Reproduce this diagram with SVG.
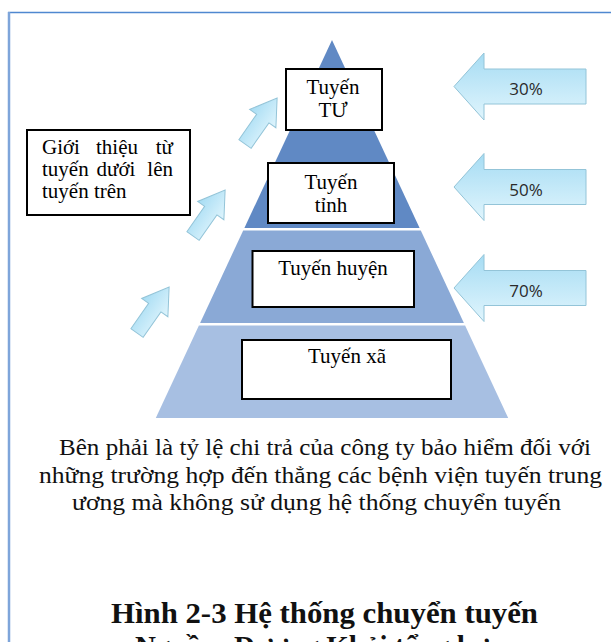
<svg xmlns="http://www.w3.org/2000/svg" width="611" height="642" viewBox="0 0 611 642">
  <style>
    .box { fill: #ffffff; stroke: #000000; stroke-width: 2; }
    .lbl { font-family: "Liberation Serif", "Times New Roman", serif; font-size: 21px; fill: #000000; }
    .mid { text-anchor: middle; }
    .end { text-anchor: end; }
    .pct { font-family: "Open Sans", "Liberation Sans", sans-serif; font-size: 17px; fill: #2a2a2a; text-anchor: middle; }
    .note { font-family: "Liberation Serif", "Times New Roman", serif; font-size: 23px; fill: #111111; text-anchor: middle; }
    .title { font-family: "Liberation Serif", "Times New Roman", serif; font-size: 29px; font-weight: bold; fill: #111111; text-anchor: middle; }
    .arrow { fill: url(#cyanGrad); stroke: #93c4d8; stroke-width: 1; }
  </style>
  <defs>
    <linearGradient id="cyanGrad" x1="0" y1="0" x2="0" y2="1">
      <stop offset="0" stop-color="#a6dcf3"/>
      <stop offset="1" stop-color="#e0f5fd"/>
    </linearGradient>
    <!-- block arrow pointing left, tip at origin -->
    <path id="leftArrow" d="M0,0 L30,-33.5 L30,-17.5 L132,-17.5 L132,17.5 L30,17.5 L30,33.5 Z"/>
    <!-- block arrow pointing along +x, tail at origin -->
    <path id="upArrow" d="M0,-7.5 L31,-7.5 L31,-16 L56,0 L31,16 L31,7.5 L0,7.5 Z"/>
  </defs>

  <!-- page frame -->
  <g id="frame">
    <line x1="8" y1="12.5" x2="611" y2="12.5" stroke="#4f88d0" stroke-width="1.5"/>
    <line x1="9" y1="12" x2="9" y2="642" stroke="#7ea5da" stroke-width="2.5"/>
  </g>

  <!-- pyramid tiers -->
  <g id="pyramid">
    <polygon points="332,40 419.6,228 244.4,228" fill="#6089c4"/>
    <polygon points="243.2,230.5 420.8,230.5 463.9,323 200.1,323" fill="#8aa9d6"/>
    <polygon points="198.9,325.5 465.1,325.5 508.2,418 155.8,418" fill="#a7bfe2"/>
  </g>

  <!-- connectors: referral arrows and payment-rate arrows -->
  <g id="connectors">
    <use href="#upArrow" class="arrow" transform="translate(245,144) rotate(-55)"/>
    <use href="#upArrow" class="arrow" transform="translate(193,236) rotate(-55)"/>
    <use href="#upArrow" class="arrow" transform="translate(137,333) rotate(-55)"/>

    <use href="#leftArrow" class="arrow" transform="translate(454,86.5)"/>
    <use href="#leftArrow" class="arrow" transform="translate(454,187)"/>
    <use href="#leftArrow" class="arrow" transform="translate(454,288)"/>
    <text class="pct" x="526" y="95">30%</text>
    <text class="pct" x="526" y="195.5">50%</text>
    <text class="pct" x="526" y="296.5">70%</text>
  </g>

  <g id="tuyen-tu">
    <rect class="box" x="286" y="69" width="96" height="61"/>
    <text class="lbl mid" x="333" y="94">Tuyến</text>
    <text class="lbl mid" x="333" y="117">TƯ</text>
  </g>

  <g id="tuyen-tinh">
    <rect class="box" x="268" y="163" width="126" height="60"/>
    <text class="lbl mid" x="331" y="189">Tuyến</text>
    <text class="lbl mid" x="331" y="212">tỉnh</text>
  </g>

  <g id="tuyen-huyen">
    <rect class="box" x="252.5" y="251" width="161.5" height="56"/>
    <text class="lbl mid" x="333" y="275">Tuyến huyện</text>
  </g>

  <g id="tuyen-xa">
    <rect class="box" x="242" y="340" width="209" height="59"/>
    <text class="lbl mid" x="347" y="363">Tuyến xã</text>
  </g>

  <!-- justified three-line note -->
  <g id="gioi-thieu">
    <rect class="box" x="27" y="130" width="163" height="85"/>
    <text class="lbl" x="42" y="154">Giới</text>
    <text class="lbl mid" x="117" y="154">thiệu</text>
    <text class="lbl end" x="173" y="154">từ</text>
    <text class="lbl" x="42" y="176">tuyến</text>
    <text class="lbl mid" x="116" y="176">dưới</text>
    <text class="lbl end" x="173" y="176">lên</text>
    <text class="lbl" x="42" y="198">tuyến trên</text>
  </g>

  <g id="caption">
    <text class="note" x="325" y="455" textLength="532" lengthAdjust="spacingAndGlyphs">Bên phải là tỷ lệ chi trả của công ty bảo hiểm đối với</text>
    <text class="note" x="320.5" y="483" textLength="563" lengthAdjust="spacingAndGlyphs">những trường hợp đến thẳng các bệnh viện tuyến trung</text>
    <text class="note" x="316.5" y="510" textLength="489" lengthAdjust="spacingAndGlyphs">ương mà không sử dụng hệ thống chuyển tuyến</text>
    <text class="title" x="324.5" y="623" textLength="427" lengthAdjust="spacingAndGlyphs">Hình 2-3 Hệ thống chuyển tuyến</text>
    <text class="title" x="320" y="656" font-size="24">Nguồn: Dương Khải tổng hợp</text>
  </g>
</svg>
